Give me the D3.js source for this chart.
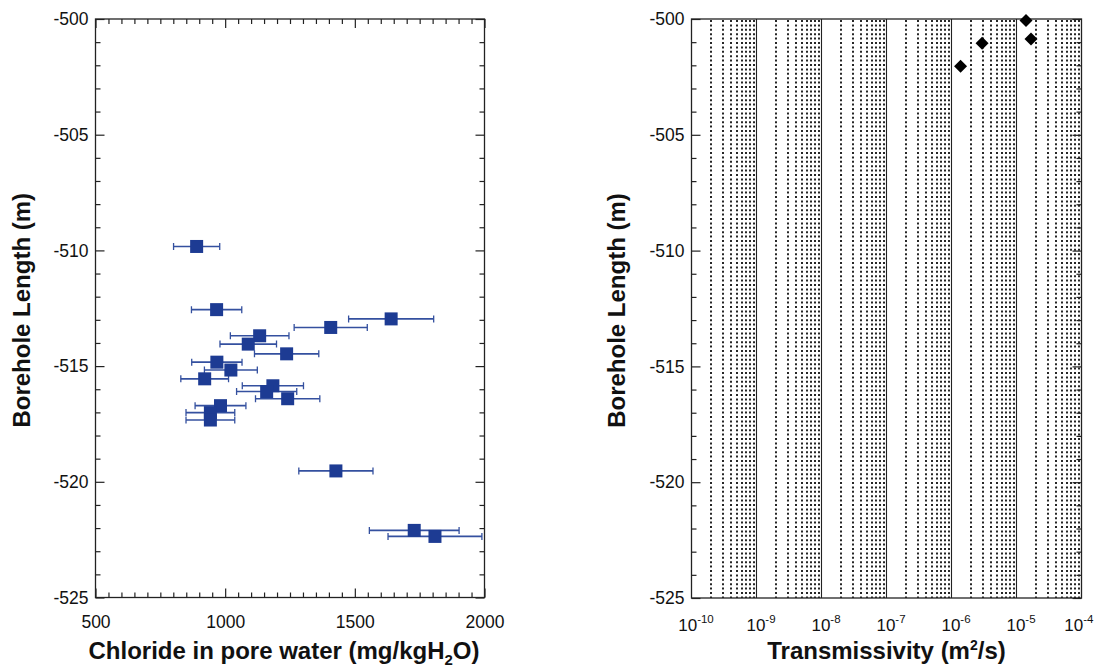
<!DOCTYPE html>
<html><head><meta charset="utf-8">
<script src="https://cdn.jsdelivr.net/npm/d3@7"></script>
<style>
body{margin:0;background:#fff;}
text{font-family:"Liberation Sans",Arial,sans-serif;}
</style></head>
<body><svg id="c" width="1095" height="671"></svg>
<script>
// Left panel: chloride in pore water vs borehole length
const chloride = [890, 967, 1407, 1133, 1089, 1237, 968, 1022, 921, 1184, 1160, 1241, 982, 943, 943, 1640, 1427, 1729, 1809];
const chlorideDepth = [-509.83, -512.56, -513.33, -513.69, -514.05, -514.47, -514.83, -515.17, -515.55, -515.85, -516.1, -516.41, -516.71, -517.01, -517.33, -512.96, -519.53, -522.1, -522.36];
const chlorideErr = [89, 97, 141, 113, 109, 124, 97, 102, 92, 118, 116, 124, 98, 94, 94, 164, 143, 173, 181];
// Right panel: transmissivity vs borehole length
const transmissivity = [1.40e-5, 2.95e-6, 1.38e-6, 1.67e-5];
const transDepth = [-500.06, -501.05, -502.04, -500.86];
// Axis ticks
const chlorideTicks = [500, 1000, 1500, 2000];
const depthTicks = [-500, -505, -510, -515, -520, -525];
const transTicks = [1e-10, 1e-9, 1e-8, 1e-7, 1e-6, 1e-5, 1e-4];

const svg = d3.select("#c");
const blue = "#1d3b93";
const TICKFS = 17.5, TITLEFS = 24;

const L = {x0: 95.5, x1: 484.5, y0: 19, y1: 597.5};
const xL = d3.scaleLinear().domain([500, 2000]).range([L.x0, L.x1]);
const yL = d3.scaleLinear().domain([-500, -525]).range([L.y0, L.y1]);
const R = {x0: 691.5, x1: 1081.5, y0: 19, y1: 598};
const xR = d3.scaleLog().domain([1e-10, 1e-4]).range([R.x0, R.x1]);
const yRR = d3.scaleLinear().domain([-500, -525]).range([R.y0, R.y1]);

const minorX = d3.range(500, 2001, 50).filter(v => v % 500 !== 0);
const minorY = d3.range(-500, -526, -1).filter(v => v % 5 !== 0);
const plain = d => String(d);

function styleAxis(g){
  g.select(".domain").remove();
  g.selectAll("line").attr("stroke", "#222").attr("stroke-width", 1.2);
  g.selectAll("text").attr("font-size", TICKFS).attr("fill", "#111");
}

// ---------- Left panel ----------
const gl = svg.append("g");
gl.append("g").attr("transform", `translate(0,${L.y1})`)
  .call(d3.axisBottom(xL).tickValues(chlorideTicks).tickSizeInner(-9).tickSizeOuter(0).tickPadding(18).tickFormat(plain))
  .call(styleAxis);
gl.append("g").attr("transform", `translate(0,${L.y1})`)
  .call(d3.axisBottom(xL).tickValues(minorX).tickSizeInner(-5).tickSizeOuter(0).tickFormat(""))
  .call(styleAxis);
gl.append("g").attr("transform", `translate(0,${L.y0})`)
  .call(d3.axisTop(xL).tickValues(chlorideTicks).tickSizeInner(-9).tickSizeOuter(0).tickFormat(""))
  .call(styleAxis);
gl.append("g").attr("transform", `translate(0,${L.y0})`)
  .call(d3.axisTop(xL).tickValues(minorX).tickSizeInner(-5).tickSizeOuter(0).tickFormat(""))
  .call(styleAxis);
gl.append("g").attr("transform", `translate(${L.x0},0)`)
  .call(d3.axisLeft(yL).tickValues(depthTicks).tickSizeInner(-9).tickSizeOuter(0).tickPadding(7).tickFormat(plain))
  .call(styleAxis);
gl.append("g").attr("transform", `translate(${L.x0},0)`)
  .call(d3.axisLeft(yL).tickValues(minorY).tickSizeInner(-5).tickSizeOuter(0).tickFormat(""))
  .call(styleAxis);
gl.append("g").attr("transform", `translate(${L.x1},0)`)
  .call(d3.axisRight(yL).tickValues(depthTicks).tickSizeInner(-9).tickSizeOuter(0).tickFormat(""))
  .call(styleAxis);
gl.append("g").attr("transform", `translate(${L.x1},0)`)
  .call(d3.axisRight(yL).tickValues(minorY).tickSizeInner(-5).tickSizeOuter(0).tickFormat(""))
  .call(styleAxis);
gl.append("rect").attr("x", L.x0).attr("y", L.y0).attr("width", L.x1 - L.x0).attr("height", L.y1 - L.y0)
  .attr("fill", "none").attr("stroke", "#222").attr("stroke-width", 1.3);

svg.append("clipPath").attr("id", "clipL").append("rect")
  .attr("x", L.x0).attr("y", L.y0).attr("width", L.x1 - L.x0).attr("height", L.y1 - L.y0);

const pts = chloride.map((v, i) => ({v, d: chlorideDepth[i], e: chlorideErr[i]}));
const eg = gl.append("g").attr("clip-path", "url(#clipL)");
eg.selectAll("line.eb").data(pts).join("line").attr("class", "eb")
  .attr("x1", d => xL(d.v - d.e)).attr("x2", d => xL(d.v + d.e))
  .attr("y1", d => yL(d.d)).attr("y2", d => yL(d.d))
  .attr("stroke", "#34509f").attr("stroke-width", 1.6);
eg.selectAll("line.cl").data(pts).join("line").attr("class", "cl")
  .attr("x1", d => xL(d.v - d.e)).attr("x2", d => xL(d.v - d.e))
  .attr("y1", d => yL(d.d) - 3.5).attr("y2", d => yL(d.d) + 3.5)
  .attr("stroke", "#34509f").attr("stroke-width", 1.3);
eg.selectAll("line.cr").data(pts).join("line").attr("class", "cr")
  .attr("x1", d => xL(d.v + d.e)).attr("x2", d => xL(d.v + d.e))
  .attr("y1", d => yL(d.d) - 3.5).attr("y2", d => yL(d.d) + 3.5)
  .attr("stroke", "#34509f").attr("stroke-width", 1.3);
eg.selectAll("rect.m").data(pts).join("rect").attr("class", "m")
  .attr("x", d => xL(d.v) - 6.5).attr("y", d => yL(d.d) - 6.5)
  .attr("width", 13).attr("height", 13).attr("fill", blue);

const tx = gl.append("text").attr("x", (L.x0 + L.x1) / 2 - 6).attr("y", 659).attr("text-anchor", "middle")
  .attr("font-size", TITLEFS).attr("font-weight", "bold").attr("fill", "#111");
tx.append("tspan").text("Chloride in pore water (mg/kgH");
tx.append("tspan").text("2").attr("font-size", 15).attr("dy", 6);
tx.append("tspan").text("O)").attr("dy", -6);
gl.append("text").attr("transform", `translate(30,${(L.y0 + L.y1) / 2 + 2}) rotate(-90)`)
  .attr("text-anchor", "middle").attr("font-size", TITLEFS).attr("font-weight", "bold").attr("fill", "#111")
  .text("Borehole Length (m)");

// ---------- Right panel ----------
const gr = svg.append("g");
const minorLog = [];
transTicks.slice(0, -1).forEach(t => { for (let k = 2; k <= 9; k++) minorLog.push(t * k); });
gr.selectAll("line.gm").data(minorLog).join("line").attr("class", "gm")
  .attr("x1", d => Math.round(xR(d))).attr("x2", d => Math.round(xR(d))).attr("y1", R.y0 + 1).attr("y2", R.y1)
  .attr("stroke", "#000").attr("stroke-width", 1.7).attr("stroke-dasharray", "2,2.4");
gr.selectAll("line.gM").data(transTicks.slice(1, -1)).join("line").attr("class", "gM")
  .attr("x1", d => xR(d)).attr("x2", d => xR(d)).attr("y1", R.y0).attr("y2", R.y1)
  .attr("stroke", "#222").attr("stroke-width", 1.1);

gr.append("g").attr("transform", `translate(${R.x0},0)`)
  .call(d3.axisLeft(yRR).tickValues(depthTicks).tickSizeInner(-9).tickSizeOuter(0).tickPadding(7).tickFormat(plain))
  .call(styleAxis);
gr.append("g").attr("transform", `translate(${R.x0},0)`)
  .call(d3.axisLeft(yRR).tickValues(minorY).tickSizeInner(-5).tickSizeOuter(0).tickFormat(""))
  .call(styleAxis);
gr.append("g").attr("transform", `translate(${R.x1},0)`)
  .call(d3.axisRight(yRR).tickValues(depthTicks).tickSizeInner(-9).tickSizeOuter(0).tickFormat(""))
  .call(styleAxis);
gr.append("g").attr("transform", `translate(${R.x1},0)`)
  .call(d3.axisRight(yRR).tickValues(minorY).tickSizeInner(-5).tickSizeOuter(0).tickFormat(""))
  .call(styleAxis);
const xg = gr.append("g").attr("transform", `translate(0,${R.y1})`)
  .call(d3.axisBottom(xR).tickValues(transTicks).tickSize(0).tickPadding(21).tickFormat(""))
  .call(styleAxis);
xg.selectAll(".tick").each(function(d){
  const t = d3.select(this).select("text").attr("text-anchor", "start").attr("font-size", 17);
  t.append("tspan").text("10");
  t.append("tspan").text(String(Math.round(Math.log10(d)))).attr("font-size", 11.5).attr("dy", -8);
  const w = this.querySelector("text").getComputedTextLength();
  const tickX = xR(d);
  let left = -w / 2 + 4;
  if (tickX + left + w > 1093) left = 1093 - tickX - w;
  t.attr("x", left);
});
gr.append("rect").attr("x", R.x0).attr("y", R.y0).attr("width", R.x1 - R.x0).attr("height", R.y1 - R.y0)
  .attr("fill", "none").attr("stroke", "#222").attr("stroke-width", 1.3);

const tpts = transmissivity.map((v, i) => ({v, d: transDepth[i]}));
gr.selectAll("path.dm").data(tpts).join("path").attr("class", "dm")
  .attr("transform", d => `translate(${xR(d.v)},${yRR(d.d)})`)
  .attr("d", "M0,-6.5L6.5,0L0,6.5L-6.5,0Z").attr("fill", "#000");

const tr = gr.append("text").attr("x", (R.x0 + R.x1) / 2).attr("y", 659).attr("text-anchor", "middle")
  .attr("font-size", TITLEFS).attr("font-weight", "bold").attr("fill", "#111");
tr.append("tspan").text("Transmissivity (m");
tr.append("tspan").text("2").attr("font-size", 14).attr("dy", -9);
tr.append("tspan").text("/s)").attr("dy", 9);
gr.append("text").attr("transform", `translate(625,${(R.y0 + R.y1) / 2 + 2}) rotate(-90)`)
  .attr("text-anchor", "middle").attr("font-size", TITLEFS).attr("font-weight", "bold").attr("fill", "#111")
  .text("Borehole Length (m)");
</script></body></html>
